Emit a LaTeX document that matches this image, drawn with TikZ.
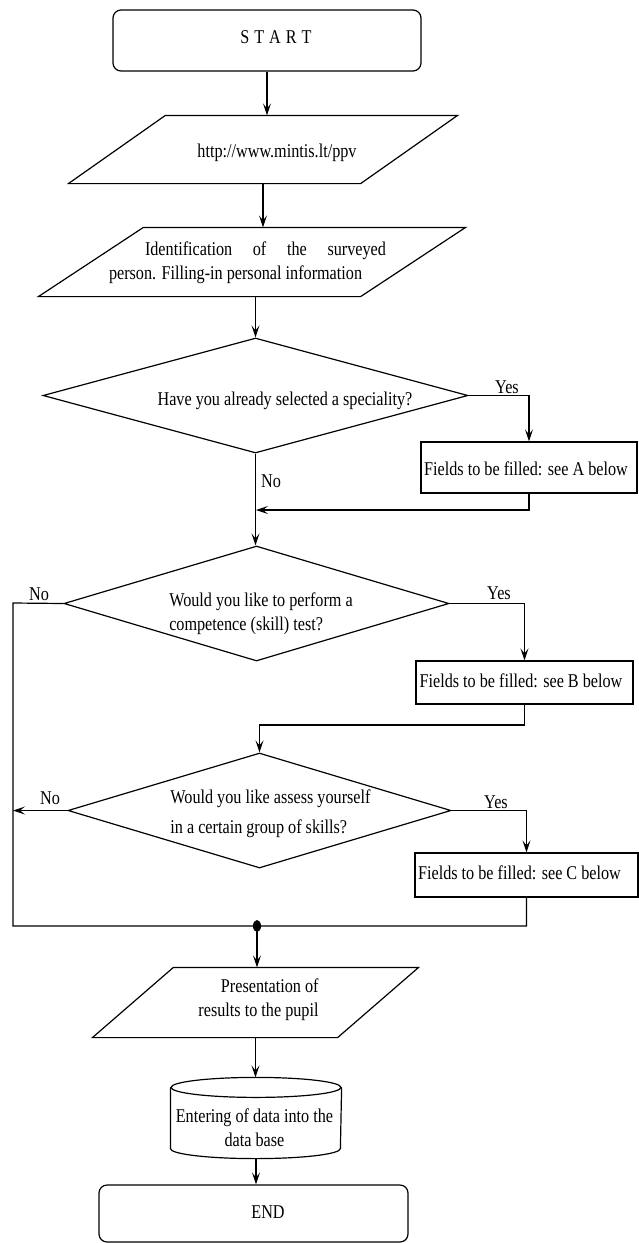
\documentclass[tikz,border=0pt]{standalone}
\usepackage{fontspec}
\setmainfont{Liberation Serif}[FakeStretch=0.83]
\usetikzlibrary{shapes.geometric, arrows.meta}

% slanted input/output box drawn round a named node
\newcommand{\ioshape}[2]{\draw ([xshift=#2]#1.north west) -- (#1.north east) -- ([xshift=-#2]#1.south east) -- (#1.south west) -- cycle;}

\tikzset{
	every node/.style={font=\fontsize{19.5}{24}\selectfont},
	term/.style={draw, rectangle, rounded corners=8pt, inner sep=0pt},
	box/.style={draw, rectangle, inner sep=0pt},
	decision/.style={draw, diamond, inner sep=0pt},
	io/.style={rectangle, inner sep=0pt},
	arr/.style={-{Stealth[length=12pt, width=8pt, inset=5pt]}}
}

\begin{document}
\begin{tikzpicture}[x=1pt, y=-1pt, line width=1.2pt]
	\useasboundingbox (0,0) rectangle (639,1243);
	% shapes
	\node[term, minimum width=308pt, minimum height=61pt] (start) at (267,40.5) {};
	\node[io, minimum width=388pt, minimum height=67pt] (urlbox) at (263,149.5) {};
	\ioshape{urlbox}{97pt}
	\node[io, minimum width=426pt, minimum height=68pt] (idbox) at (252,262) {};
	\ioshape{idbox}{105pt}
	\node[decision, minimum width=425pt, minimum height=115pt] (d1) at (255.5,395.5) {};
	\node[box, minimum width=216pt, minimum height=51pt] (fa) at (529,467.5) {};
	\node[decision, minimum width=385pt, minimum height=115pt] (d2) at (256.5,603.5) {};
	\node[box, minimum width=217pt, minimum height=43pt] (fb) at (524.5,682.5) {};
	\node[decision, minimum width=383pt, minimum height=115pt] (d3) at (259.5,810.5) {};
	\node[box, minimum width=223pt, minimum height=44pt] (fc) at (526.5,875) {};
	\node[io, minimum width=325pt, minimum height=69pt] (presbox) at (255.5,1002.5) {};
	\ioshape{presbox}{81pt}
	\node[io, minimum width=170pt, minimum height=80pt] (dbbox) at (256,1118) {};
	\draw ([yshift=-10pt]dbbox.north) ellipse [x radius=85pt, y radius=10pt];
	\draw ([yshift=-10pt]dbbox.north west) -- ([yshift=10pt]dbbox.south west) arc[start angle=180, end angle=360, x radius=85pt, y radius=10pt] -- ([yshift=-10pt]dbbox.north east);
	\node[term, minimum width=309pt, minimum height=57pt] (end) at (253.5,1213.5) {};

	% texts
	\node (startt) at (276,37) {S\hspace{5pt}T\hspace{5pt}A\hspace{5pt}R\hspace{5pt}T};
	\node (urlt) at (277,153) {http://www.mintis.lt/ppv};
	\node[align=left] (idt) at (247.5,263) {\hspace*{36pt}\makebox[241pt][s]{Identification of the surveyed}\\person. Filling-in personal information};
	\node (d1t) at (285,401) {Have you already selected a speciality?};
	\node (yes1) at (507,387) {Yes};
	\node (no1) at (271,481) {No};
	\node (fat) at (526,469) {Fields to be filled: see A below};
	\node[align=left] (d2t) at (261,613.5) {Would you like to perform a\\competence (skill) test?};
	\node (no2) at (39,594) {No};
	\node (yes2) at (499,593) {Yes};
	\node (fbt) at (521,681) {Fields to be filled: see B below};
	\node[align=left] (d3t) at (270.5,814) {Would you like assess yourself\\[6pt]in a certain group of skills?};
	\node (no3) at (50,798) {No};
	\node (yes3) at (496,802) {Yes};
	\node (fct) at (519.5,873) {Fields to be filled: see C below};
	\node[align=right] (prest) at (258.5,1000) {Presentation of\\results to the pupil};
	\node[align=center] (dbt) at (254.5,1128) {Entering of data into the\\data base};
	\node (endt) at (268,1212) {END};

	% connectors
	\coordinate (m1) at (256,510);
	\coordinate (m2) at (259.5,725);
	\coordinate (lft) at (13,603);
	\coordinate (jn) at (257,926);
	\draw[arr] (start.south) -- (start.south |- urlbox.north);
	\draw[arr] (urlbox.south) -- (urlbox.south |- idbox.north);
	\draw[arr] (d1.north |- idbox.south) -- (d1.north);
	\draw[arr] (d1.east) -| (fa.north);
	\draw[arr] (d1.south) -- (d1.south |- d2.north);
	\draw[arr] (fa.south) |- (m1);
	\draw[arr] (d2.east) -| (fb.north);
	\draw (d2.west) -- (lft) |- (fc.south |- jn) -- (fc.south);
	\draw[arr] (fb.south) |- (m2) -- (d3.north);
	\draw[arr] (d3.west) -- (lft |- d3.west);
	\draw[arr] (d3.east) -| (fc.north);
	\fill (jn) ellipse [x radius=4pt, y radius=6pt];
	\draw[arr] (jn) -- (jn |- presbox.north);
	\draw[arr] (presbox.south) -- (presbox.south |- dbbox.north);
	\draw[arr] (dbbox.south) -- (dbbox.south |- end.north);
\end{tikzpicture}
\end{document}
